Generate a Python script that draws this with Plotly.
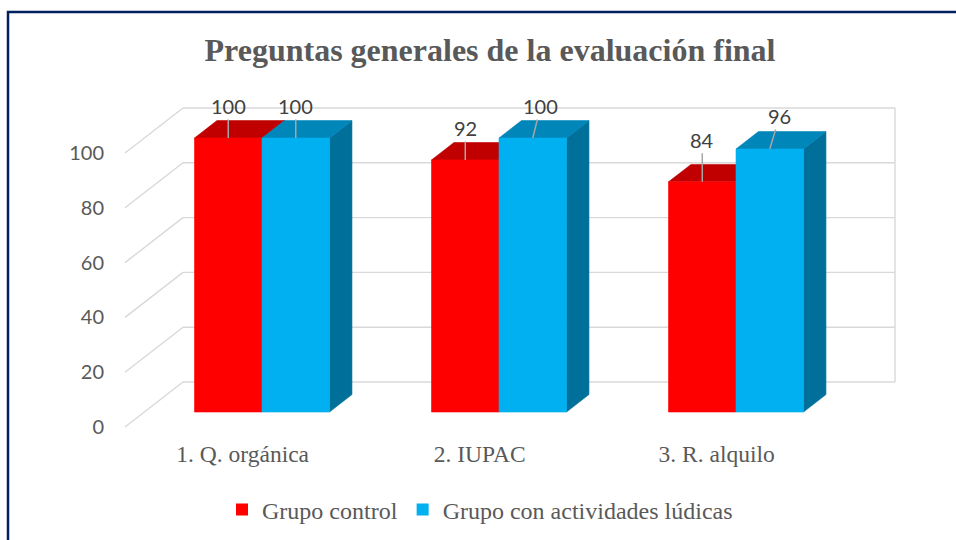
import plotly.graph_objects as go

# ---- data ----
categories = ["1. Q. orgánica", "2. IUPAC", "3. R. alquilo"]
series_names = ["Grupo control", "Grupo con actividades lúdicas"]
grupo_control = [100, 92, 84]
grupo_ludicas = [100, 100, 96]
y_ticks = [0, 20, 40, 60, 80, 100]
chart_title = "Preguntas generales de la evaluación final"

# ---- page / plot geometry ----
W, H = 956, 540
M_L, M_R, M_T, M_B = 110, 20, 70, 105
PX_PER_UNIT = 2.74          # vertical pixels per value unit
Y0_PX = 427                 # pixel row of value 0 on the front plane

# oblique projection: depth z in [0 (front), 1 (back wall)]
DX = 58.0                   # horizontal shift in px at full depth
DY = 45.0 / PX_PER_UNIT     # vertical shift in value units at full depth

WALL_X = 125.0              # left side wall (front x)
WALL_RIGHT = 837.0          # right end of the back wall (front x)
GROUP_X0, GROUP_STEP = 242.7, 237.0
BAR_W = 67.5
Z_FRONT, Z_BACK = 0.333, 0.72

COLORS = {
    "front": ["#FF0000", "#00B0F0"],
    "top": ["#C00000", "#0086B9"],
    "side": ["#A00000", "#00709A"],
}
GRID = "#D9D9D9"
TEXT_GREY = "#595959"
LABEL_GREY = "#404040"


def proj(x, v, z):
    return x + z * DX, v + z * DY


def faces(values, series_idx):
    """Polygons (x list, y list) for front, top and side faces of one series."""
    out = {"front": ([], []), "top": ([], []), "side": ([], [])}
    for i, v in enumerate(values):
        seam = GROUP_X0 + GROUP_STEP * i
        xl = seam - BAR_W if series_idx == 0 else seam
        xr = xl + BAR_W
        polys = {
            "front": [(xl, 0, Z_FRONT), (xr, 0, Z_FRONT), (xr, v, Z_FRONT), (xl, v, Z_FRONT)],
            "top": [(xl, v, Z_FRONT), (xr, v, Z_FRONT), (xr, v, Z_BACK), (xl, v, Z_BACK)],
            "side": [(xr, 0, Z_FRONT), (xr, 0, Z_BACK), (xr, v, Z_BACK), (xr, v, Z_FRONT)],
        }
        for k, pts in polys.items():
            for p in pts + [pts[0]]:
                px, py = proj(*p)
                out[k][0].append(px)
                out[k][1].append(py)
            out[k][0].append(None)
            out[k][1].append(None)
    return out


fig = go.Figure()

# ---- walls: back-wall gridlines, side-wall diagonals, right edge ----
gx, gy = [], []
for t in y_ticks:
    for a, b in [((WALL_X, t, 0), (WALL_X, t, 1)), ((WALL_X, t, 1), (WALL_RIGHT, t, 1))]:
        x1, y1 = proj(*a)
        x2, y2 = proj(*b)
        gx += [x1, x2, None]
        gy += [y1, y2, None]
x1, y1 = proj(WALL_RIGHT, y_ticks[0], 1)
x2, y2 = proj(WALL_RIGHT, y_ticks[-1], 1)
gx += [x1, x2, None]
gy += [y1, y2, None]
fig.add_trace(go.Scatter(x=gx, y=gy, mode="lines", line=dict(color=GRID, width=1.4),
                         hoverinfo="skip", showlegend=False))

# ---- 3D bars (painter's order: side, top, front for each series) ----
for s, vals in enumerate([grupo_control, grupo_ludicas]):
    f = faces(vals, s)
    for k in ["side", "top", "front"]:
        fig.add_trace(go.Scatter(
            x=f[k][0], y=f[k][1], mode="lines", fill="toself",
            fillcolor=COLORS[k][s], line=dict(color=COLORS[k][s], width=0.6),
            hoverinfo="skip", showlegend=False))

# legend keys
for s, name in enumerate(series_names):
    fig.add_trace(go.Bar(x=[None], y=[None], name=name,
                         marker=dict(color=COLORS["front"][s], line=dict(width=0))))

# ---- value labels with leader lines ----
label_offsets = [[(0, -32), (0, -32), (0, -42)],
                 [(0, -32), (8, -32), (10, -33)]]
for s, vals in enumerate([grupo_control, grupo_ludicas]):
    for i, v in enumerate(vals):
        seam = GROUP_X0 + GROUP_STEP * i
        cx = seam - BAR_W / 2 if s == 0 else seam + BAR_W / 2
        px, py = proj(cx, v, Z_FRONT)
        ax, ay = label_offsets[s][i]
        fig.add_annotation(x=px, y=py, xref="x", yref="y", text=str(v),
                           showarrow=True, arrowhead=0, arrowwidth=1.5,
                           arrowcolor="#A6A6A6", standoff=0, ax=ax, ay=ay,
                           font=dict(family="Lato", size=20, color=LABEL_GREY))

# ---- frame around the chart ----
pw = W - M_L - M_R
ph = H - M_T - M_B


def px_x(p):
    return (p - M_L) / pw


def px_y(p):
    return (H - M_B - p) / ph


fig.add_shape(type="rect", xref="paper", yref="paper",
              x0=px_x(8), x1=px_x(W + 20), y0=px_y(12), y1=px_y(H + 20),
              line=dict(color="#002060", width=2.5), fillcolor="rgba(0,0,0,0)")

fig.update_layout(
    width=W, height=H,
    margin=dict(l=M_L, r=M_R, t=M_T, b=M_B),
    paper_bgcolor="white", plot_bgcolor="white",
    title=dict(text="<b>" + chart_title + "</b>", x=490 / W, xanchor="center",
               y=1 - 50 / H, yanchor="middle", xref="container", yref="container",
               font=dict(family="Liberation Serif", size=32, color=TEXT_GREY)),
    xaxis=dict(range=[M_L, W - M_R], showgrid=False, zeroline=False, showline=False,
               tickmode="array",
               tickvals=[GROUP_X0 + GROUP_STEP * i for i in range(len(categories))],
               ticktext=categories, ticks="", ticklabelstandoff=2,
               tickfont=dict(family="Liberation Serif", size=23.5, color=TEXT_GREY),
               fixedrange=True),
    yaxis=dict(range=[(Y0_PX - (H - M_B)) / PX_PER_UNIT, (Y0_PX - M_T) / PX_PER_UNIT],
               showgrid=False, zeroline=False, showline=False,
               tickmode="array", tickvals=y_ticks, ticktext=[str(t) for t in y_ticks],
               ticks="", ticklabelstandoff=5,
               tickfont=dict(family="Lato", size=20, color=TEXT_GREY),
               fixedrange=True),
    legend=dict(orientation="h", xref="container", yref="container",
                x=222 / W, xanchor="left", y=1 - 510 / H, yanchor="middle",
                font=dict(family="Liberation Serif", size=24, color=TEXT_GREY),
                bgcolor="rgba(0,0,0,0)"),
    showlegend=True,
)

fig.write_html("out.html")
